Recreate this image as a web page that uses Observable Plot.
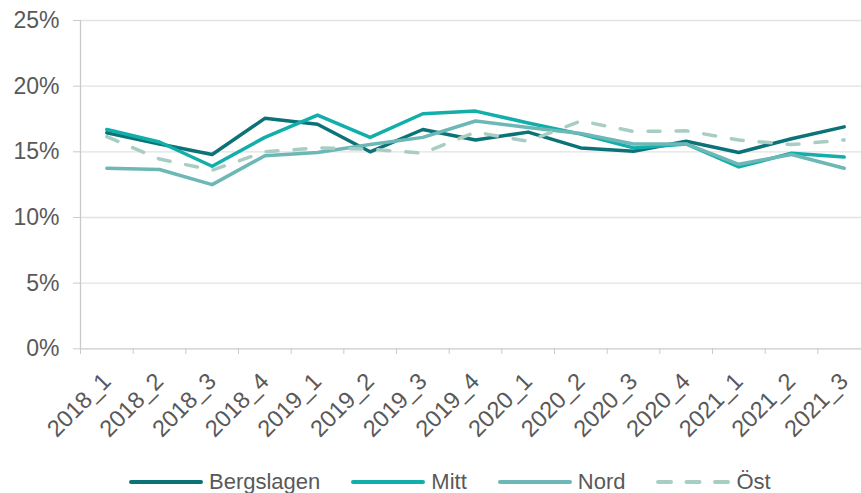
<!DOCTYPE html>
<html>
<head>
<meta charset="utf-8">
<script src="https://cdn.jsdelivr.net/npm/d3@7"></script>
<script src="https://cdn.jsdelivr.net/npm/@observablehq/plot@0.6"></script>
<style>
  html, body { margin: 0; padding: 0; background: #fff; }
  #wrap { position: relative; width: 861px; height: 493px; overflow: hidden; font-family: "Liberation Sans", Arial, sans-serif; }
  #legend { position: absolute; left: 129px; top: 466px; height: 32px; display: flex; align-items: center; font-size: 22px; color: #595959; }
  .item { display: flex; align-items: center; margin-right: 31px; }
  .item svg { margin-right: 6px; }
</style>
</head>
<body>
<div id="wrap"><div id="chart"></div><div id="legend"></div></div>
<script>
const quarters = ["2018_1","2018_2","2018_3","2018_4","2019_1","2019_2","2019_3","2019_4","2020_1","2020_2","2020_3","2020_4","2021_1","2021_2","2021_3"];
const bergslagen = [16.45, 15.6, 14.8, 17.55, 17.1, 15.0, 16.7, 15.9, 16.5, 15.3, 15.05, 15.8, 14.95, 16.0, 16.9];
const mitt       = [16.7, 15.75, 13.9, 16.1, 17.8, 16.1, 17.9, 18.1, 17.2, 16.35, 15.3, 15.6, 13.85, 14.9, 14.6];
const nord       = [13.75, 13.65, 12.5, 14.7, 14.95, 15.55, 16.1, 17.35, 16.85, 16.4, 15.6, 15.6, 14.05, 14.8, 13.75];
const ost        = [16.15, 14.45, 13.6, 15.0, 15.3, 15.2, 14.9, 16.5, 15.8, 17.35, 16.55, 16.6, 15.9, 15.55, 15.9];
const seriesNames = ["Bergslagen", "Mitt", "Nord", "Öst"];
const seriesColors = ["#0b7377", "#12aeaa", "#6db7b7", "#a8cec4"];
const yTicks = [0, 5, 10, 15, 20, 25];

const seriesValues = [bergslagen, mitt, nord, ost];
const rows = s => quarters.map((q, i) => ({i, q, v: seriesValues[s][i], s: seriesNames[s]}));
const boundaries = d3.range(quarters.length + 1).map(i => i - 0.5);

const chart = Plot.plot({
  width: 861,
  height: 466,
  marginLeft: 80,
  marginRight: 0,
  marginTop: 20,
  marginBottom: 118,
  style: {fontFamily: "'Liberation Sans', Arial, sans-serif", color: "#595959", background: "#fff"},
  x: {type: "linear", domain: [-0.5, quarters.length - 0.5], range: [80, 870]},
  y: {domain: [0, 25], range: [348.3, 20]},
  marks: [
    Plot.ruleY(yTicks.slice(1), {stroke: "#e2e2e2", strokeWidth: 1.3}),
    Plot.ruleY([0], {stroke: "#cacaca", strokeWidth: 1.3}),
    Plot.ruleX([-0.5], {y1: 0, y2: 25, stroke: "#cacaca", strokeWidth: 1.3}),
    Plot.axisY({ticks: yTicks, tickFormat: d => d + "%", tickSize: 7, tickPadding: 14, fontSize: 23, stroke: "#cacaca", fill: "#595959", label: null}),
    Plot.axisX({ticks: boundaries, tickFormat: () => "", tickSize: 6, stroke: "#cacaca", label: null}),
    Plot.axisX({ticks: d3.range(quarters.length), tickFormat: i => quarters[i], tickSize: 0, tickPadding: 29, tickRotate: -45, fontSize: 23.5, fill: "#595959", label: null}),
    ...[0, 1, 2].map(s => Plot.line(rows(s), {x: "i", y: "v", stroke: seriesColors[s], strokeWidth: 3.5, strokeLinejoin: "round", strokeLinecap: "round"})),
    Plot.line(rows(3), {x: "i", y: "v", stroke: seriesColors[3], strokeWidth: 3.5, strokeDasharray: "12,16", strokeLinecap: "round"})
  ]
});
document.getElementById("chart").appendChild(chart);

const legend = document.getElementById("legend");
seriesNames.forEach((name, s) => {
  const item = document.createElement("div");
  item.className = "item";
  const dash = s === 3 ? ' stroke-dasharray="13,15.5"' : '';
  item.innerHTML = `<svg width="74" height="10"><line x1="2" y1="5" x2="72" y2="5" stroke="${seriesColors[s]}" stroke-width="4" stroke-linecap="round"${dash}/></svg><span>${name}</span>`;
  legend.appendChild(item);
});
</script>
</body>
</html>
